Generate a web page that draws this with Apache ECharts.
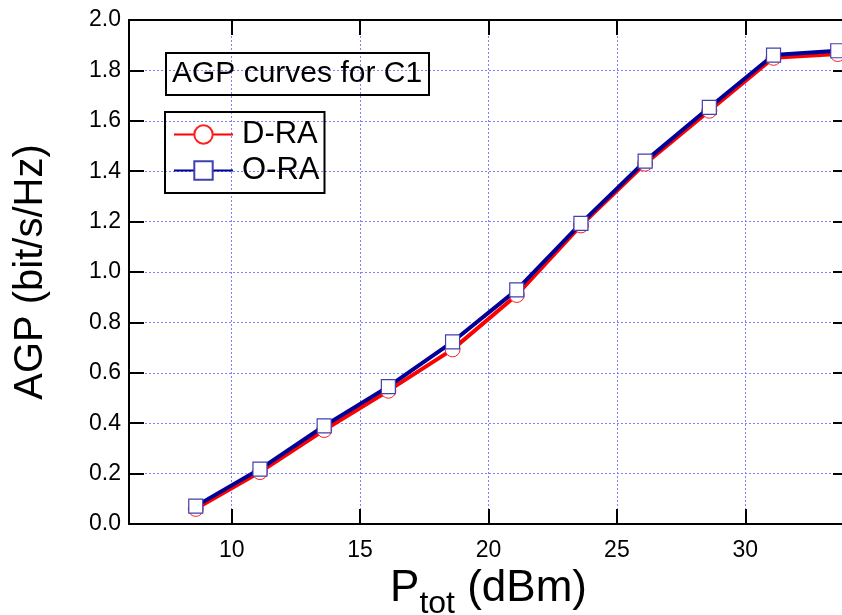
<!DOCTYPE html>
<html>
<head>
<meta charset="utf-8">
<script src="https://cdn.jsdelivr.net/npm/echarts@6/dist/echarts.min.js"></script>
<style>
html,body{margin:0;padding:0;background:#fff;}
#main{width:842px;height:615px;}
</style>
</head>
<body>
<div id="main"></div>
<script>
// ---- data ----
var xValues = [8.6, 11.1, 13.6, 16.1, 18.6, 21.1, 23.6, 26.1, 28.6, 31.1, 33.6];
var draValues = [0.060, 0.206, 0.373, 0.529, 0.693, 0.909, 1.185, 1.430, 1.640, 1.850, 1.865];
var oraValues = [0.071, 0.218, 0.389, 0.545, 0.723, 0.929, 1.193, 1.440, 1.653, 1.861, 1.878];
var xTickValues = [10, 15, 20, 25, 30];
var seriesNames = ['D-RA', 'O-RA'];
var boxTitle = 'AGP curves for C1';

function pairs(xs, ys) { return xs.map(function (x, i) { return [x, ys[i]]; }); }

var FONT = '"Liberation Sans", Arial, sans-serif';
var chart = echarts.init(document.getElementById('main'), null, { renderer: 'canvas' });

chart.setOption({
  backgroundColor: '#fff',
  animation: false,
  title: {
    text: boxTitle,
    left: 166, top: 53,
    padding: [6, 7, 6, 6],
    borderColor: '#000', borderWidth: 2,
    textStyle: { fontFamily: FONT, fontSize: 30, fontWeight: 'normal', color: '#000', lineHeight: 30 }
  },
  legend: {
    data: seriesNames,
    orient: 'vertical',
    left: 165, top: 112,
    padding: [7, 5, 7, 8],
    itemWidth: 59, itemHeight: 23, itemGap: 5,
    borderColor: '#000', borderWidth: 2,
    textStyle: { fontFamily: FONT, fontSize: 31, color: '#000', padding: [0, 0, 0, 4] }
  },
  grid: { left: 129, right: -6, top: 20, bottom: 91, containLabel: false, outerBoundsMode: 'none' },
  xAxis: [{
    type: 'value', min: 6, max: 34, position: 'bottom',
    name: '{p|P}{s|tot}{p| (dBm)}', nameLocation: 'middle', nameGap: 43,
    nameTextStyle: {
      rich: {
        p: { fontFamily: FONT, fontSize: 44, color: '#000', verticalAlign: 'top' },
        s: { fontFamily: FONT, fontSize: 32, color: '#000', padding: [21, 0, 0, 0], verticalAlign: 'top' }
      }
    },
    axisLine: { show: true, onZero: false, lineStyle: { color: '#000', width: 2 } },
    axisTick: { show: true, inside: true, length: 15, lineStyle: { color: '#000', width: 2 }, customValues: xTickValues },
    axisLabel: { fontFamily: FONT, fontSize: 23, color: '#000', margin: 15, customValues: xTickValues },
    splitLine: { show: true, lineStyle: { color: '#8080ff', width: 1, type: [2, 2] }, customValues: xTickValues }
  }, {
    type: 'value', min: 6, max: 34, position: 'top',
    axisLine: { show: true, onZero: false, lineStyle: { color: '#000', width: 2 } },
    axisTick: { show: true, inside: true, length: 15, lineStyle: { color: '#000', width: 2 }, customValues: xTickValues },
    axisLabel: { show: false },
    splitLine: { show: false }
  }],
  yAxis: [{
    type: 'value', min: 0, max: 2, interval: 0.2, position: 'left',
    name: 'AGP (bit/s/Hz)', nameLocation: 'middle', nameGap: 78, nameRotate: 90,
    nameTextStyle: { fontFamily: FONT, fontSize: 40, color: '#000' },
    axisLine: { show: true, onZero: false, lineStyle: { color: '#000', width: 2 } },
    axisTick: { show: true, inside: true, length: 15, lineStyle: { color: '#000', width: 2 } },
    axisLabel: { fontFamily: FONT, fontSize: 23, color: '#000', margin: 8,
      formatter: function (v) { return v.toFixed(1); } },
    splitLine: { show: true, lineStyle: { color: '#8080ff', width: 1, type: [2, 2] } }
  }, {
    type: 'value', min: 0, max: 2, interval: 0.2, position: 'right',
    axisLine: { show: true, onZero: false, lineStyle: { color: '#000', width: 2 } },
    axisTick: { show: true, inside: true, length: 15, lineStyle: { color: '#000', width: 2 } },
    axisLabel: { show: false },
    splitLine: { show: false }
  }],
  series: [{
    name: seriesNames[0], type: 'line', xAxisIndex: 0, yAxisIndex: 0,
    data: pairs(xValues, draValues),
    symbol: 'circle', symbolSize: 15, showAllSymbol: true,
    lineStyle: { color: '#ff0000', width: 4 },
    itemStyle: { color: '#ffffff', borderColor: '#ff2020', borderWidth: 1 },
    z: 2
  }, {
    name: seriesNames[1], type: 'line', xAxisIndex: 0, yAxisIndex: 0,
    data: pairs(xValues, oraValues),
    symbol: 'rect', symbolSize: 14, showAllSymbol: true,
    lineStyle: { color: '#000096', width: 4 },
    itemStyle: { color: '#ffffff', borderColor: '#4040b0', borderWidth: 1.2 },
    z: 3
  }]
});
</script>
</body>
</html>
